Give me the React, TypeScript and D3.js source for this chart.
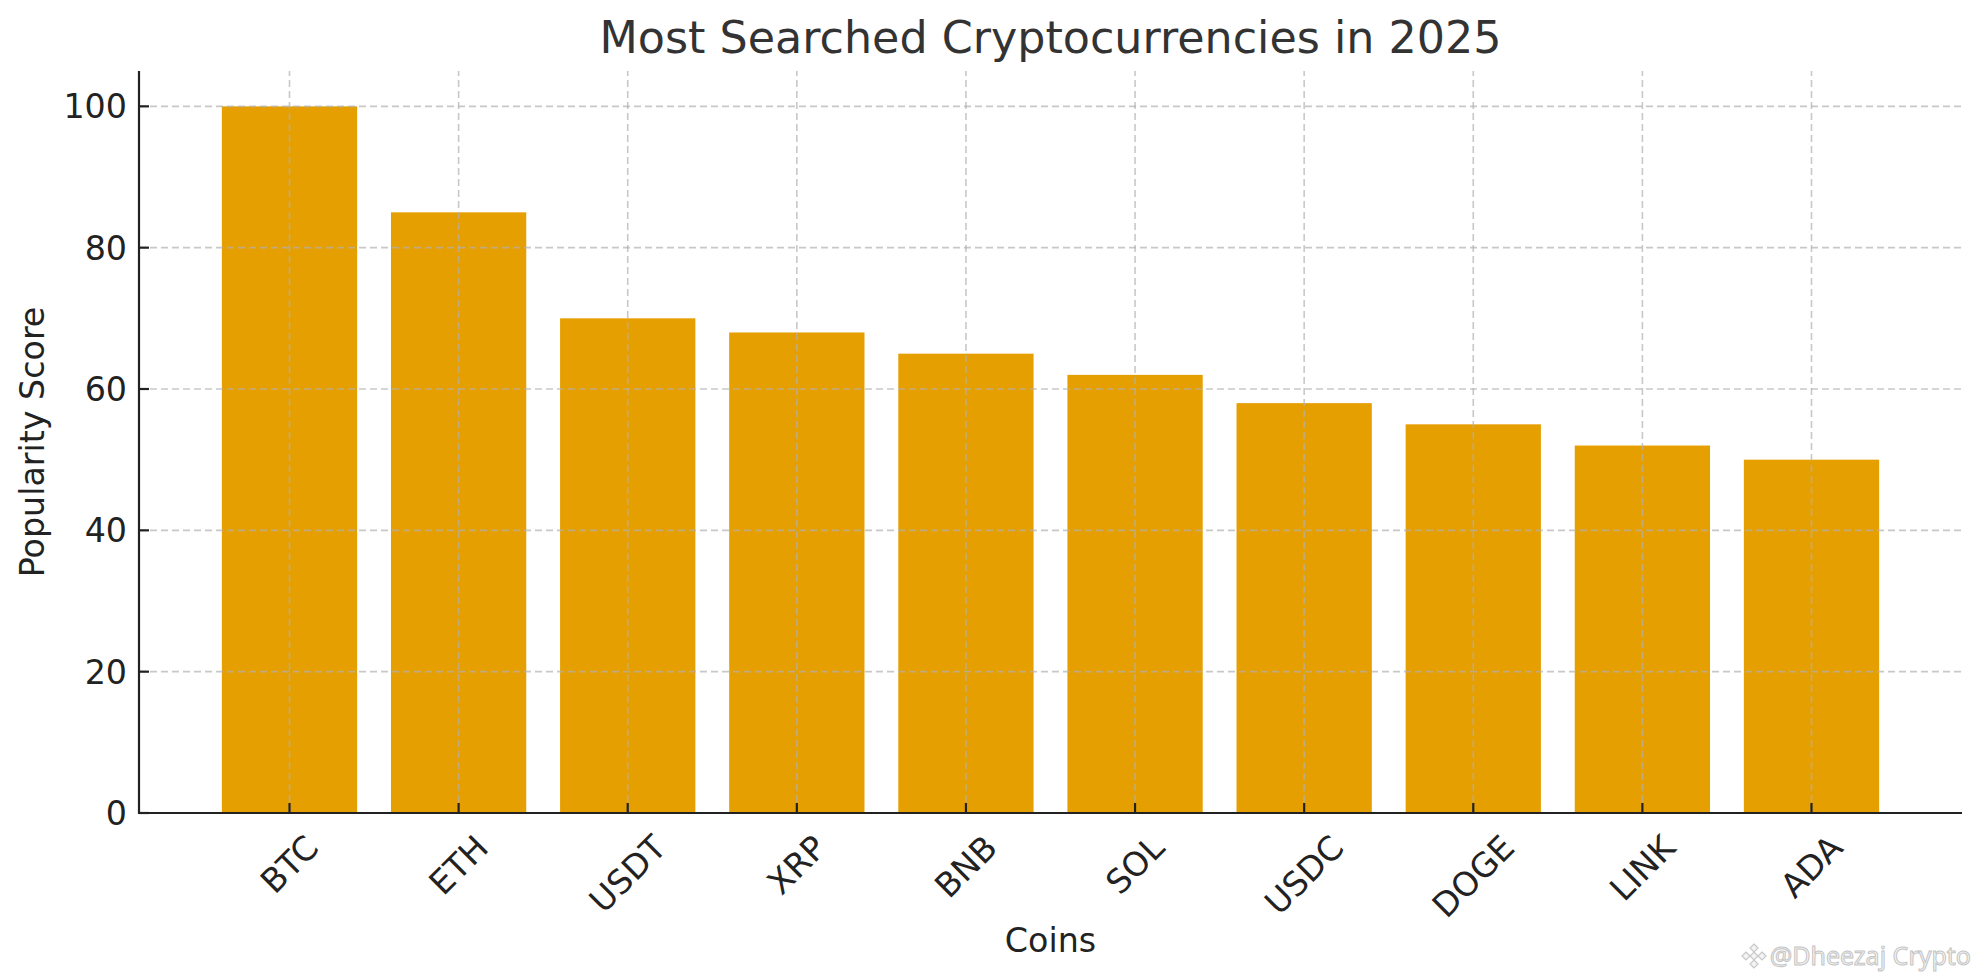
import * as d3 from 'd3';
import { useEffect, useRef } from 'react';

const coins = ['BTC', 'ETH', 'USDT', 'XRP', 'BNB', 'SOL', 'USDC', 'DOGE', 'LINK', 'ADA'];
const scores = [100, 85, 70, 68, 65, 62, 58, 55, 52, 50];
const yTicks = [0, 20, 40, 60, 80, 100];

const title = 'Most Searched Cryptocurrencies in 2025';
const xLabel = 'Coins';
const yLabel = 'Popularity Score';
const watermark = '@Dheezaj Crypto';

export default function App() {
    const svgRef = useRef<SVGSVGElement>(null);

    useEffect(() => {
        if (!svgRef.current) return;
        const width = 1979,
            height = 980;
        const margin = { top: 71, right: 17, bottom: 167, left: 139 };
        const font = 'DejaVu Sans, sans-serif';
        const fs = 33.3;

        const svg = d3.select(svgRef.current);
        svg.selectAll('*').remove();

        const x = d3
            .scaleLinear()
            .domain([-0.89, coins.length - 1 + 0.89])
            .range([margin.left, width - margin.right]);
        const y = d3
            .scaleLinear()
            .domain([0, 105])
            .range([height - margin.bottom, margin.top]);

        const x0 = x.range()[0],
            x1 = x.range()[1];
        const y0 = y(0),
            yTop = y(105);

        // bars
        svg.append('g')
            .selectAll('rect')
            .data(scores)
            .join('rect')
            .attr('x', (_, i) => x(i - 0.4))
            .attr('width', (_, i) => x(i + 0.4) - x(i - 0.4))
            .attr('y', (d) => y(d))
            .attr('height', (d) => y0 - y(d))
            .attr('fill', '#E69F00');

        // grid on top of bars
        const grid = svg
            .append('g')
            .attr('stroke', '#b0b0b0')
            .attr('stroke-opacity', 0.7)
            .attr('stroke-width', 1.6)
            .attr('stroke-dasharray', '7,4');
        grid.selectAll('line.v')
            .data(coins)
            .join('line')
            .attr('class', 'v')
            .attr('x1', (_, i) => x(i))
            .attr('x2', (_, i) => x(i))
            .attr('y1', y0)
            .attr('y2', yTop);
        grid.selectAll('line.h')
            .data(yTicks)
            .join('line')
            .attr('class', 'h')
            .attr('x1', x0)
            .attr('x2', x1)
            .attr('y1', (d) => y(d))
            .attr('y2', (d) => y(d));

        // ticks (inward)
        const ticks = svg.append('g').attr('stroke', '#222').attr('stroke-width', 2.2);
        ticks.selectAll('line.xt')
            .data(coins)
            .join('line')
            .attr('class', 'xt')
            .attr('x1', (_, i) => x(i))
            .attr('x2', (_, i) => x(i))
            .attr('y1', y0)
            .attr('y2', y0 - 10);
        ticks.selectAll('line.yt')
            .data(yTicks)
            .join('line')
            .attr('class', 'yt')
            .attr('x1', x0)
            .attr('x2', x0 + 10)
            .attr('y1', (d) => y(d))
            .attr('y2', (d) => y(d));

        // spines
        svg.append('path')
            .attr('d', `M${x0},${yTop}V${y0}H${x1}`)
            .attr('fill', 'none')
            .attr('stroke', '#222')
            .attr('stroke-width', 2.2)
            .attr('stroke-linecap', 'butt')
            .attr('stroke-linejoin', 'miter');

        // y tick labels
        svg.append('g')
            .selectAll('text')
            .data(yTicks)
            .join('text')
            .attr('x', x0 - 12)
            .attr('y', (d) => y(d))
            .attr('dy', '0.36em')
            .attr('text-anchor', 'end')
            .attr('font-family', font)
            .attr('font-size', fs)
            .attr('fill', '#222')
            .text((d) => d);

        // x tick labels, rotated 45 with centred bounding box
        const labelTop = y0 + 18;
        const xt = svg
            .append('g')
            .selectAll('text')
            .data(coins)
            .join('text')
            .attr('text-anchor', 'middle')
            .attr('dominant-baseline', 'central')
            .attr('font-family', font)
            .attr('font-size', fs)
            .attr('fill', '#222')
            .text((d) => d);
        xt.each(function (_, i) {
            const node = this as SVGTextElement;
            const w = node.getComputedTextLength();
            const side = (w + fs * 0.9) * Math.SQRT1_2;
            const cx = x(i);
            const cy = labelTop + side / 2;
            d3.select(node).attr('transform', `translate(${cx},${cy}) rotate(-45)`);
        });

        // axis labels
        svg.append('text')
            .attr('x', (x0 + x1) / 2)
            .attr('y', 952)
            .attr('text-anchor', 'middle')
            .attr('font-family', font)
            .attr('font-size', fs)
            .attr('fill', '#222')
            .text(xLabel);
        svg.append('text')
            .attr('transform', `translate(44,${(y0 + yTop) / 2}) rotate(-90)`)
            .attr('text-anchor', 'middle')
            .attr('font-family', font)
            .attr('font-size', fs)
            .attr('fill', '#222')
            .text(yLabel);

        // title
        svg.append('text')
            .attr('x', (x0 + x1) / 2)
            .attr('y', 53)
            .attr('text-anchor', 'middle')
            .attr('font-family', font)
            .attr('font-size', 44.4)
            .attr('fill', '#333')
            .text(title);

        // watermark
        const wm = svg.append('g').attr('transform', 'translate(1754,956)');
        const diamond = (cx: number, cy: number, r: number) =>
            `M${cx},${cy - r}L${cx + r},${cy}L${cx},${cy + r}L${cx - r},${cy}Z`;
        wm.append('path')
            .attr(
                'd',
                [diamond(0, -8, 4), diamond(-8, 0, 4), diamond(8, 0, 4), diamond(0, 8, 4), diamond(0, 0, 4)].join(''),
            )
            .attr('fill', '#f4f4f4')
            .attr('stroke', '#c8c8c8')
            .attr('stroke-width', 1.2);
        svg.append('text')
            .attr('x', 1971)
            .attr('y', 965)
            .attr('text-anchor', 'end')
            .attr('font-family', 'Noto Sans, sans-serif')
            .attr('font-size', 25)
            .attr('fill', '#f6f6f6')
            .attr('stroke', '#c4c4c4')
            .attr('stroke-width', 1)
            .text(watermark);
    }, []);

    return (
        <svg
            ref={svgRef}
            width={1979}
            height={980}
            style={{ position: 'absolute', left: 0, top: 0, background: '#fff' }}
        />
    );
}
